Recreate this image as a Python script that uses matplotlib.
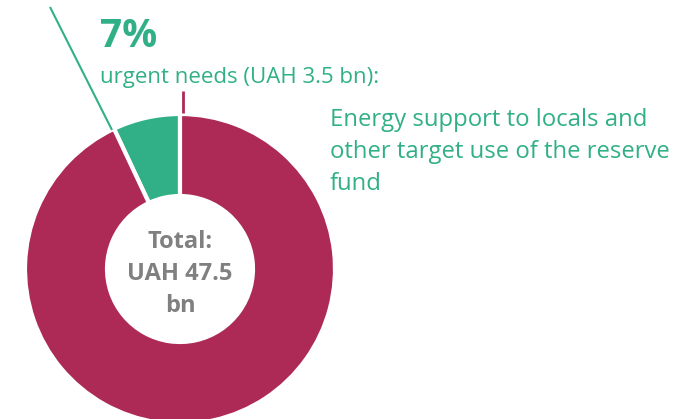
import matplotlib.pyplot as plt

plt.rcParams['font.family'] = ['Open Sans', 'DejaVu Sans']

# data
shares = [7, 93]
labels = ['urgent needs', 'other']
colors = ['#31B087', '#AD2A57']
pct_text = '7%'
urgent_text = 'urgent needs (UAH 3.5 bn):'
detail_text = 'Energy support to locals and\nother target use of the reserve\nfund'
total_text = 'Total:\nUAH 47.5\nbn'

W, H = 675, 419
fig = plt.figure(figsize=(W / 100, H / 100), dpi=100)
ax = fig.add_axes([0, 0, 1, 1])

# donut, center in pixel coords (y up)
cx, cy, r = 180, 150, 155
ax.pie(shares, colors=colors, startangle=90, counterclock=True,
       center=(cx, cy), radius=r,
       wedgeprops=dict(width=82, edgecolor='white', linewidth=3))

ax.set_xlim(0, W)
ax.set_ylim(0, H)
ax.set_aspect('equal')
ax.axis('off')

# leader lines
ax.plot([50, 112], [H - 7, H - 130], color=colors[0], lw=1.5, solid_capstyle='butt')
ax.plot([183, 183], [H - 91, H - 113], color=colors[1], lw=2, solid_capstyle='butt')

# labels
ax.text(100, H - 36, pct_text, color=colors[0], fontsize=28, fontweight='bold',
        ha='left', va='center')
ax.text(100, H - 77, urgent_text, color=colors[0], fontsize=16,
        ha='left', va='center')
ax.text(330, H - 152, detail_text, color=colors[0], fontsize=17.2,
        ha='left', va='center', linespacing=1.43)
ax.text(cx, cy - 5, total_text, color='#808080', fontsize=17, fontweight='bold',
        ha='center', va='center', linespacing=1.42)

fig.savefig('out.png', dpi=100)
